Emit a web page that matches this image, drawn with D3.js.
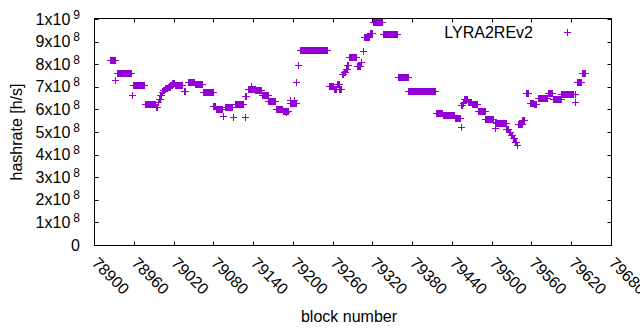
<!DOCTYPE html>
<html>
<head>
<meta charset="utf-8">
<script src="https://cdn.jsdelivr.net/npm/d3@7"></script>
<style>
body { margin: 0; background: #fff; }
text { font-family: "Liberation Sans", Arial, sans-serif; fill: #000; }
</style>
</head>
<body>
<svg id="chart" width="640" height="330"></svg>
<script>
// hashrate per block.
// each entry is a run of consecutive blocks that share the same estimate
var runFrom = [78925, 78933, 78935, 78958, 78960, 78978, 78994, 78997, 78999, 79001,
  79003, 79005, 79008, 79012, 79016, 79019, 79023, 79036, 79043, 79053,
  79065, 79081, 79085, 79096, 79098, 79111, 79113, 79128, 79129, 79133,
  79137, 79144, 79154, 79164, 79176, 79186, 79190, 79196, 79197, 79203,
  79206, 79209, 79212, 79255, 79263, 79267, 79271, 79275, 79278, 79281,
  79283, 79285, 79297, 79303, 79306, 79308, 79317, 79321, 79337, 79359,
  79375, 79417, 79427, 79445, 79454, 79455, 79457, 79459, 79465, 79471,
  79480, 79491, 79505, 79506, 79508, 79523, 79527, 79530, 79533, 79536,
  79539, 79541, 79547, 79553, 79558, 79564, 79570, 79585, 79593, 79606,
  79626, 79627, 79629, 79637];
var runTo = [78932, 78933, 78956, 78958, 78976, 78993, 78996, 78998, 79000, 79002,
  79004, 79007, 79011, 79015, 79018, 79021, 79034, 79038, 79052, 79063,
  79080, 79083, 79094, 79096, 79109, 79111, 79126, 79128, 79130, 79143,
  79137, 79153, 79163, 79174, 79185, 79194, 79190, 79205, 79197, 79203,
  79206, 79209, 79253, 79262, 79266, 79270, 79274, 79277, 79280, 79282,
  79284, 79296, 79302, 79303, 79306, 79315, 79320, 79335, 79358, 79374,
  79415, 79426, 79444, 79453, 79454, 79456, 79458, 79464, 79470, 79479,
  79490, 79503, 79505, 79507, 79522, 79526, 79529, 79532, 79535, 79538,
  79539, 79546, 79550, 79555, 79563, 79568, 79584, 79591, 79605, 79624,
  79626, 79627, 79636, 79641];
var runRate = [8.16e8, 7.27e8, 7.59e8, 6.62e8, 7.07e8, 6.22e8, 6.10e8, 6.30e8, 6.45e8, 6.60e8,
  6.75e8, 6.85e8, 6.93e8, 6.98e8, 7.05e8, 7.15e8, 7.07e8, 6.81e8, 7.18e8, 7.09e8,
  6.74e8, 6.15e8, 6.00e8, 5.67e8, 6.08e8, 5.62e8, 6.21e8, 5.65e8, 6.55e8, 6.90e8,
  7.02e8, 6.84e8, 6.62e8, 6.34e8, 6.00e8, 5.90e8, 5.85e8, 6.28e8, 6.40e8, 6.40e8,
  7.18e8, 7.96e8, 8.61e8, 7.03e8, 6.86e8, 7.08e8, 6.90e8, 7.55e8, 7.65e8, 7.78e8,
  7.95e8, 8.30e8, 7.92e8, 8.07e8, 8.57e8, 9.19e8, 9.38e8, 9.86e8, 9.32e8, 7.42e8,
  6.80e8, 5.83e8, 5.72e8, 5.58e8, 5.21e8, 6.17e8, 6.28e8, 6.43e8, 6.32e8, 6.22e8,
  5.90e8, 5.56e8, 5.16e8, 5.40e8, 5.38e8, 5.11e8, 5.00e8, 4.85e8, 4.70e8, 4.55e8,
  4.42e8, 5.35e8, 5.53e8, 6.71e8, 6.28e8, 6.20e8, 6.49e8, 6.69e8, 6.45e8, 6.67e8,
  6.67e8, 6.30e8, 7.20e8, 7.57e8];

var xTicks = [78900, 78960, 79020, 79080, 79140, 79200, 79260, 79320, 79380, 79440, 79500, 79560, 79620, 79680];
var yTicks = [0, 1e8, 2e8, 3e8, 4e8, 5e8, 6e8, 7e8, 8e8, 9e8, 1e9];

var seriesName = "LYRA2REv2";
var color = "#9400d3";

var pL = 94, pR = 611, pT = 19, pB = 245;

var svg = d3.select("#chart");

var x = d3.scaleLinear().domain([78900, 79680]).range([pL, pR]);
var y = d3.scaleLinear().domain([0, 1e9]).range([pB, pT]);

// build one point per block of every run
var points = [];
runFrom.forEach(function(b, i) {
  for (var k = b; k <= runTo[i]; k++) points.push({block: k, rate: runRate[i]});
});

var plus = "M-3.5,0H3.5M0,-3.5V3.5";

// border box
svg.append("rect")
  .attr("x", pL + 0.5).attr("y", pT - 0.5)
  .attr("width", pR - pL).attr("height", pB - pT + 1)
  .attr("fill", "none").attr("stroke", "#000").attr("stroke-width", 1);

// ticks, inward on all four sides
var tk = 4;
xTicks.forEach(function(v) {
  var px = Math.round(x(v)) + 0.5;
  svg.append("line").attr("x1", px).attr("x2", px).attr("y1", pB + 0.5).attr("y2", pB + 0.5 - tk).attr("stroke", "#000");
  svg.append("line").attr("x1", px).attr("x2", px).attr("y1", pT - 0.5).attr("y2", pT - 0.5 + tk).attr("stroke", "#000");
});
yTicks.forEach(function(v) {
  var py = Math.round(y(v)) + 0.5;
  svg.append("line").attr("x1", pL + 0.5).attr("x2", pL + 0.5 + tk).attr("y1", py).attr("y2", py).attr("stroke", "#000");
  svg.append("line").attr("x1", pR + 0.5).attr("x2", pR + 0.5 - tk).attr("y1", py).attr("y2", py).attr("stroke", "#000");
});

// y tick labels like 1x10^8
yTicks.forEach(function(v) {
  var t = svg.append("text")
    .attr("x", 80).attr("y", y(v))
    .attr("dy", "0.35em")
    .attr("text-anchor", "end")
    .style("font-size", "16px");
  if (v == 0) { t.text("0"); return; }
  var e = Math.floor(Math.log10(v) + 1e-9);
  var m = Math.round(v / Math.pow(10, e));
  t.append("tspan").text(m + "x10");
  t.append("tspan").attr("dx", 3).attr("dy", -6).style("font-size", "12px").text(e);
});

// x tick labels, rotated
xTicks.forEach(function(v) {
  svg.append("text")
    .attr("transform", "translate(" + (x(v) + 1) + ",260) rotate(45)")
    .attr("dy", "0.35em")
    .style("font-size", "16px")
    .text(v);
});

// axis titles
svg.append("text")
  .attr("transform", "translate(16,132) rotate(-90)")
  .attr("text-anchor", "middle").attr("dy", "0.35em")
  .style("font-size", "16px")
  .text("hashrate [h/s]");
svg.append("text")
  .attr("x", 349).attr("y", 316)
  .attr("text-anchor", "middle").attr("dy", "0.35em")
  .style("font-size", "16px")
  .text("block number");

// points
svg.append("g").selectAll("path")
  .data(points)
  .enter().append("path")
  .attr("d", plus)
  .attr("transform", function(d) { return "translate(" + x(d.block) + "," + y(d.rate) + ")"; })
  .attr("fill", "none").attr("stroke", color).attr("stroke-width", 1)
  .attr("shape-rendering", "crispEdges");

// key
svg.append("text")
  .attr("x", 533).attr("y", 32)
  .attr("text-anchor", "end").attr("dy", "0.35em")
  .style("font-size", "16px")
  .text(seriesName);
svg.append("path")
  .attr("d", plus)
  .attr("transform", "translate(567,32)")
  .attr("fill", "none").attr("stroke", color).attr("stroke-width", 1)
  .attr("shape-rendering", "crispEdges");
</script>
</body>
</html>
